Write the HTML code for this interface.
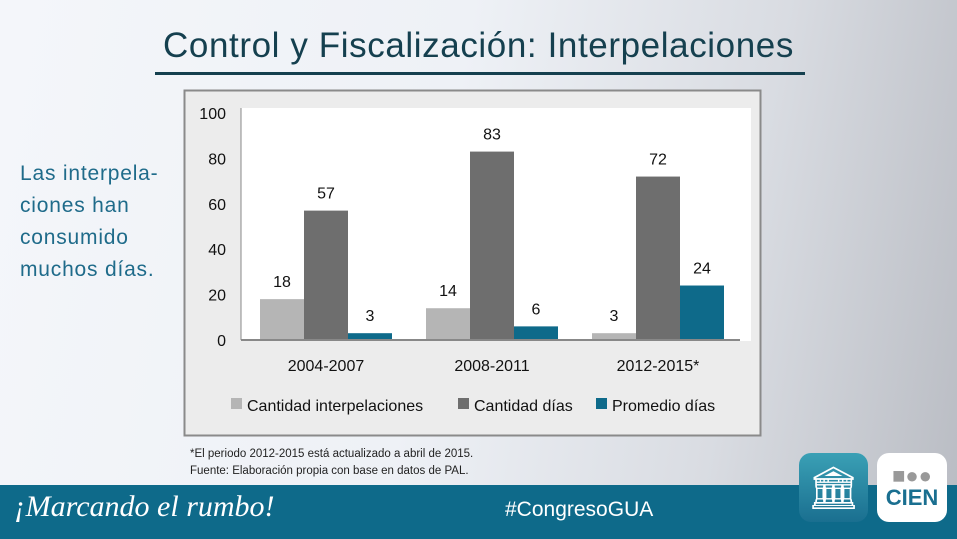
<!DOCTYPE html>
<html><head><meta charset="utf-8"><style>
body{margin:0;width:957px;height:539px;overflow:hidden;font-family:"Liberation Sans",sans-serif;position:relative;
background:linear-gradient(100deg,#f4f6fa 0%,#eef1f6 45%,#d9dce2 75%,#b9bcc3 100%);}
.abs{position:absolute}
</style></head><body>
<div class="abs" style="left:0;width:957px;top:26px;text-align:center;font-size:35px;letter-spacing:0.6px;color:#15404f;">Control y Fiscalización: Interpelaciones</div>
<div class="abs" style="left:155px;top:72px;width:650px;height:3px;background:#15404f"></div>
<div class="abs" style="left:20px;top:158px;font-size:21px;letter-spacing:0.8px;line-height:32px;color:#1f6b8a">Las interpela-<br>ciones han<br>consumido<br>muchos días.</div>
<svg class="abs" style="left:0;top:0" width="957" height="539">
<rect x="184.5" y="90.5" width="576" height="345" fill="#ececec" stroke="#8a8a8a" stroke-width="2"/>
<rect x="241" y="108" width="510" height="233" fill="#fff"/>
<g id="g"></g>
</svg>
<div class="abs" style="left:190px;top:446px;font-size:11.5px;line-height:17px;color:#222">*El periodo 2012-2015 está actualizado a abril de 2015.<br>Fuente: Elaboración propia con base en datos de PAL.</div>
<div class="abs" style="left:0;top:485px;width:957px;height:54px;background:#0e6a8a"></div>
<div class="abs" style="left:14px;top:490px;font-size:30px;font-style:italic;color:#fff;font-family:'Liberation Serif',serif">¡Marcando el rumbo!</div>
<div class="abs" style="left:505px;top:498px;font-size:21px;color:#fff">#CongresoGUA</div>
<div class="abs" style="left:799px;top:453px;width:69px;height:69px;border-radius:12px;background:linear-gradient(#3aa0b5,#1a6f90);color:#fff;font-size:42px;text-align:center;line-height:69px">🏛</div>
<div class="abs" style="left:877px;top:453px;width:70px;height:69px;border-radius:12px;background:#fff;color:#1a6f90;font-weight:bold;font-size:22px;text-align:center;line-height:22px;padding-top:12px;box-sizing:border-box"><span style="color:#999">■●●</span><br>CIEN</div>
<script>
const categories=["2004-2007","2008-2011","2012-2015*"];
const seriesNames=["Cantidad interpelaciones","Cantidad días","Promedio días"];
const interpelaciones=[18,14,3];
const dias=[57,83,72];
const promedio=[3,6,24];
const yTicks=[0,20,40,60,80,100];
const NS="http://www.w3.org/2000/svg",g=document.getElementById('g');
const colors=["#b5b5b5","#6e6e6e","#0e6a8a"];
const y0=340,y100=113,x0=243,groupW=166,barW=44;
const ys=v=>y0-(y0-y100)*v/100;
const cx=i=>x0+groupW*(i+0.5);
function mk(t,a,txt){const e=document.createElementNS(NS,t);for(const k in a)e.setAttribute(k,a[k]);if(txt!=null)e.textContent=txt;g.appendChild(e);return e;}
yTicks.forEach(v=>{const e=mk('text',{x:226,y:ys(v)+6,'text-anchor':'end','font-size':16,fill:'#111'},v);

});
[interpelaciones,dias,promedio].forEach((s,si)=>s.forEach((v,i)=>{
const x=cx(i)+(si-1.5)*barW;
const r=mk('rect',{x:x,y:ys(v),width:barW,height:y0-ys(v),fill:colors[si]});


const t=mk('text',{x:x+barW/2,y:ys(v)-12,'text-anchor':'middle','font-size':16,fill:'#111'},v);


}));
const ax=mk('line',{x1:241,y1:y0,x2:740,y2:y0,stroke:'#888','stroke-width':2});


const ay=mk('line',{x1:241,y1:108,x2:241,y2:y0,stroke:'#888','stroke-width':1});


categories.forEach((c,i)=>{const t=mk('text',{x:cx(i),y:371,'text-anchor':'middle','font-size':16,fill:'#111'},c);

});
const lx=[231,458,596];
seriesNames.forEach((n,i)=>{
const r=mk('rect',{x:lx[i],y:398,width:11,height:11,fill:colors[i]});


const t=mk('text',{x:lx[i]+16,y:411,'font-size':16,fill:'#111'},n);


});
</script>
</body></html>
